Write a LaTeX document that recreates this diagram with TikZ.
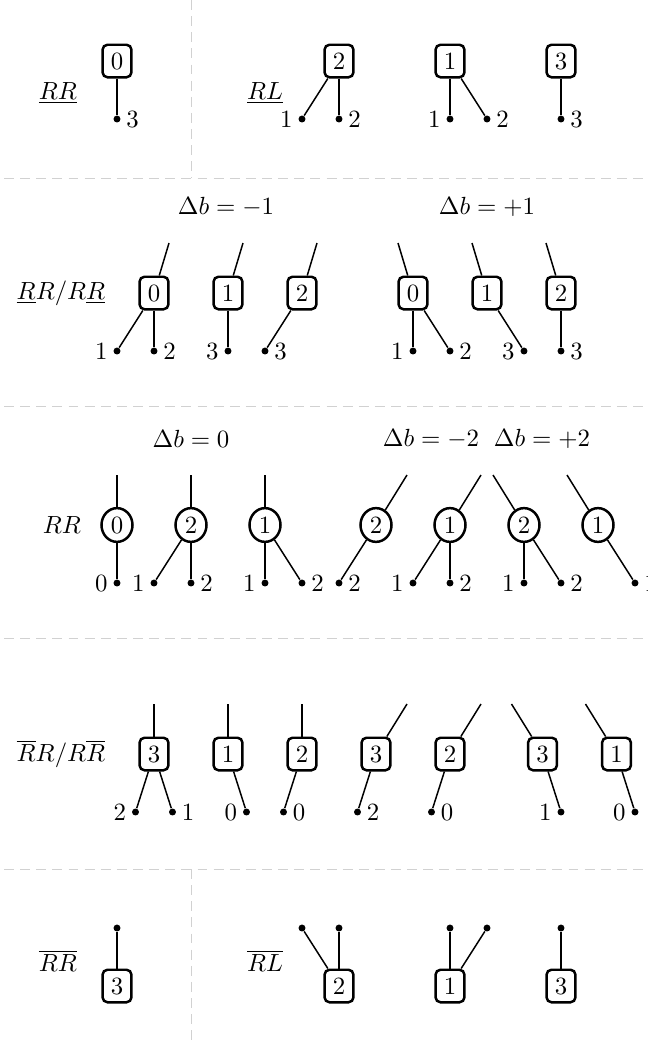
\documentclass[tikz,border=0pt]{standalone}
\usetikzlibrary{shapes.geometric}
\tikzset{
  vbox/.style={draw, line width=1pt, rounded corners=2pt, inner sep=3.33pt},
  vcirc/.style={draw, line width=1pt, ellipse, inner sep=0pt, minimum width=12.5pt, minimum height=13.6pt},
  leaf/.style={circle, fill=black, inner sep=0pt, minimum size=2.8pt},
  leaflbl/.style={inner sep=2pt},
  edge/.style={line width=0.6pt},
  sepline/.style={black!18, line width=0.4pt, dash pattern=on 4pt off 2.5pt}
}
\begin{document}
\begin{tikzpicture}[x=0.403pt, y=-0.403pt]
			%%%%% START %%%%%
			\useasboundingbox (0,0) rectangle (648,1042);

			\draw[sepline] (191,0) -- (191,178);
			\draw[sepline] (4,178) -- (648,178);
			\draw[sepline] (4,406) -- (648,406);
			\draw[sepline] (4,638) -- (648,638);
			\draw[sepline] (4,869) -- (648,869);
			\draw[sepline] (191,869) -- (191,1042);

			% RR / RL
			\node (lab1) at (58,93) {$\underline{RR}$};
			\node (lab2) at (265,93) {$\underline{RL}$};

			\node[vbox] (s1a) at (117,61) {$0$};
			\node[leaf, label={[leaflbl]right:$3$}] (s1a1) at (117,119) {};
			\draw[edge] (s1a) -- (s1a1);

			\node[vbox] (s1b) at (339,61) {$2$};
			\node[leaf, label={[leaflbl]left:$1$}] (s1b1) at (302,119) {};
			\node[leaf, label={[leaflbl]right:$2$}] (s1b2) at (339,119) {};
			\draw[edge] (s1b) -- (s1b1);
			\draw[edge] (s1b) -- (s1b2);

			\node[vbox] (s1c) at (450,61) {$1$};
			\node[leaf, label={[leaflbl]left:$1$}] (s1c1) at (450,119) {};
			\node[leaf, label={[leaflbl]right:$2$}] (s1c2) at (487,119) {};
			\draw[edge] (s1c) -- (s1c1);
			\draw[edge] (s1c) -- (s1c2);

			\node[vbox] (s1d) at (561,61) {$3$};
			\node[leaf, label={[leaflbl]right:$3$}] (s1d1) at (561,119) {};
			\draw[edge] (s1d) -- (s1d1);

			% RR/RR with one underline
			\node (lab3) at (61,293) {$\underline{R}R/R\underline{R}$};
			\node (db1) at (226,207) {$\Delta b=-1$};
			\node (db2) at (487,207) {$\Delta b=+1$};

			\node[vbox] (s2a) at (154,293) {$0$};
			\coordinate (s2a0) at (169,243);
			\node[leaf, label={[leaflbl]left:$1$}] (s2a1) at (117,351) {};
			\node[leaf, label={[leaflbl]right:$2$}] (s2a2) at (154,351) {};
			\draw[edge] (s2a0) -- (s2a);
			\draw[edge] (s2a) -- (s2a1);
			\draw[edge] (s2a) -- (s2a2);

			\node[vbox] (s2b) at (228,293) {$1$};
			\coordinate (s2b0) at (243,243);
			\node[leaf, label={[leaflbl]left:$3$}] (s2b1) at (228,351) {};
			\draw[edge] (s2b0) -- (s2b);
			\draw[edge] (s2b) -- (s2b1);

			\node[vbox] (s2c) at (302,293) {$2$};
			\coordinate (s2c0) at (317,243);
			\node[leaf, label={[leaflbl]right:$3$}] (s2c1) at (265,351) {};
			\draw[edge] (s2c0) -- (s2c);
			\draw[edge] (s2c) -- (s2c1);

			\node[vbox] (s2d) at (413,293) {$0$};
			\coordinate (s2d0) at (398,243);
			\node[leaf, label={[leaflbl]left:$1$}] (s2d1) at (413,351) {};
			\node[leaf, label={[leaflbl]right:$2$}] (s2d2) at (450,351) {};
			\draw[edge] (s2d0) -- (s2d);
			\draw[edge] (s2d) -- (s2d1);
			\draw[edge] (s2d) -- (s2d2);

			\node[vbox] (s2e) at (487,293) {$1$};
			\coordinate (s2e0) at (472,243);
			\node[leaf, label={[leaflbl]left:$3$}] (s2e1) at (524,351) {};
			\draw[edge] (s2e0) -- (s2e);
			\draw[edge] (s2e) -- (s2e1);

			\node[vbox] (s2f) at (561,293) {$2$};
			\coordinate (s2f0) at (546,243);
			\node[leaf, label={[leaflbl]right:$3$}] (s2f1) at (561,351) {};
			\draw[edge] (s2f0) -- (s2f);
			\draw[edge] (s2f) -- (s2f1);

			% RR
			\node (lab4) at (62,525) {$RR$};
			\node (db3) at (191,439) {$\Delta b=0$};
			\node (db4) at (431,439) {$\Delta b=-2$};
			\node (db5) at (542,439) {$\Delta b=+2$};

			\node[vcirc] (s3a) at (117,525) {$0$};
			\coordinate (s3a0) at (117,475);
			\node[leaf, label={[leaflbl]left:$0$}] (s3a1) at (117,583) {};
			\draw[edge] (s3a0) -- (s3a);
			\draw[edge] (s3a) -- (s3a1);

			\node[vcirc] (s3b) at (191,525) {$2$};
			\coordinate (s3b0) at (191,475);
			\node[leaf, label={[leaflbl]left:$1$}] (s3b1) at (154,583) {};
			\node[leaf, label={[leaflbl]right:$2$}] (s3b2) at (191,583) {};
			\draw[edge] (s3b0) -- (s3b);
			\draw[edge] (s3b) -- (s3b1);
			\draw[edge] (s3b) -- (s3b2);

			\node[vcirc] (s3c) at (265,525) {$1$};
			\coordinate (s3c0) at (265,475);
			\node[leaf, label={[leaflbl]left:$1$}] (s3c1) at (265,583) {};
			\node[leaf, label={[leaflbl]right:$2$}] (s3c2) at (302,583) {};
			\draw[edge] (s3c0) -- (s3c);
			\draw[edge] (s3c) -- (s3c1);
			\draw[edge] (s3c) -- (s3c2);

			\node[vcirc] (s3d) at (376,525) {$2$};
			\coordinate (s3d0) at (407,475);
			\node[leaf, label={[leaflbl]right:$2$}] (s3d1) at (339,583) {};
			\draw[edge] (s3d0) -- (s3d);
			\draw[edge] (s3d) -- (s3d1);

			\node[vcirc] (s3e) at (450,525) {$1$};
			\coordinate (s3e0) at (481,475);
			\node[leaf, label={[leaflbl]left:$1$}] (s3e1) at (413,583) {};
			\node[leaf, label={[leaflbl]right:$2$}] (s3e2) at (450,583) {};
			\draw[edge] (s3e0) -- (s3e);
			\draw[edge] (s3e) -- (s3e1);
			\draw[edge] (s3e) -- (s3e2);

			\node[vcirc] (s3f) at (524,525) {$2$};
			\coordinate (s3f0) at (493,475);
			\node[leaf, label={[leaflbl]left:$1$}] (s3f1) at (524,583) {};
			\node[leaf, label={[leaflbl]right:$2$}] (s3f2) at (561,583) {};
			\draw[edge] (s3f0) -- (s3f);
			\draw[edge] (s3f) -- (s3f1);
			\draw[edge] (s3f) -- (s3f2);

			\node[vcirc] (s3g) at (598,525) {$1$};
			\coordinate (s3g0) at (567,475);
			\node[leaf, label={[leaflbl]right:$1$}] (s3g1) at (635,583) {};
			\draw[edge] (s3g0) -- (s3g);
			\draw[edge] (s3g) -- (s3g1);

			% RR/RR with one overline
			\node (lab5) at (61,754) {$\overline{R}R/R\overline{R}$};

			\node[vbox] (s4a) at (154,754) {$3$};
			\coordinate (s4a0) at (154,704);
			\node[leaf, label={[leaflbl]left:$2$}] (s4a1) at (135.5,812) {};
			\node[leaf, label={[leaflbl]right:$1$}] (s4a2) at (172.5,812) {};
			\draw[edge] (s4a0) -- (s4a);
			\draw[edge] (s4a) -- (s4a1);
			\draw[edge] (s4a) -- (s4a2);

			\node[vbox] (s4b) at (228,754) {$1$};
			\coordinate (s4b0) at (228,704);
			\node[leaf, label={[leaflbl]left:$0$}] (s4b1) at (246.5,812) {};
			\draw[edge] (s4b0) -- (s4b);
			\draw[edge] (s4b) -- (s4b1);

			\node[vbox] (s4c) at (302,754) {$2$};
			\coordinate (s4c0) at (302,704);
			\node[leaf, label={[leaflbl]right:$0$}] (s4c1) at (283.5,812) {};
			\draw[edge] (s4c0) -- (s4c);
			\draw[edge] (s4c) -- (s4c1);

			\node[vbox] (s4d) at (376,754) {$3$};
			\coordinate (s4d0) at (407,704);
			\node[leaf, label={[leaflbl]right:$2$}] (s4d1) at (357.5,812) {};
			\draw[edge] (s4d0) -- (s4d);
			\draw[edge] (s4d) -- (s4d1);

			\node[vbox] (s4e) at (450,754) {$2$};
			\coordinate (s4e0) at (481,704);
			\node[leaf, label={[leaflbl]right:$0$}] (s4e1) at (431.5,812) {};
			\draw[edge] (s4e0) -- (s4e);
			\draw[edge] (s4e) -- (s4e1);

			\node[vbox] (s4f) at (542.5,754) {$3$};
			\coordinate (s4f0) at (511.5,704);
			\node[leaf, label={[leaflbl]left:$1$}] (s4f1) at (561,812) {};
			\draw[edge] (s4f0) -- (s4f);
			\draw[edge] (s4f) -- (s4f1);

			\node[vbox] (s4g) at (616.5,754) {$1$};
			\coordinate (s4g0) at (585.5,704);
			\node[leaf, label={[leaflbl]left:$0$}] (s4g1) at (635,812) {};
			\draw[edge] (s4g0) -- (s4g);
			\draw[edge] (s4g) -- (s4g1);

			% RR / RL with overline
			\node (lab6) at (58,961) {$\overline{RR}$};
			\node (lab7) at (265,961) {$\overline{RL}$};

			\node[vbox] (s5a) at (117,986) {$3$};
			\node[leaf] (s5a1) at (117,928) {};
			\draw[edge] (s5a) -- (s5a1);

			\node[vbox] (s5b) at (339,986) {$2$};
			\node[leaf] (s5b1) at (302,928) {};
			\node[leaf] (s5b2) at (339,928) {};
			\draw[edge] (s5b) -- (s5b1);
			\draw[edge] (s5b) -- (s5b2);

			\node[vbox] (s5c) at (450,986) {$1$};
			\node[leaf] (s5c1) at (450,928) {};
			\node[leaf] (s5c2) at (487,928) {};
			\draw[edge] (s5c) -- (s5c1);
			\draw[edge] (s5c) -- (s5c2);

			\node[vbox] (s5d) at (561,986) {$3$};
			\node[leaf] (s5d1) at (561,928) {};
			\draw[edge] (s5d) -- (s5d1);
			%%%%% END %%%%%
		\end{tikzpicture}
\end{document}
